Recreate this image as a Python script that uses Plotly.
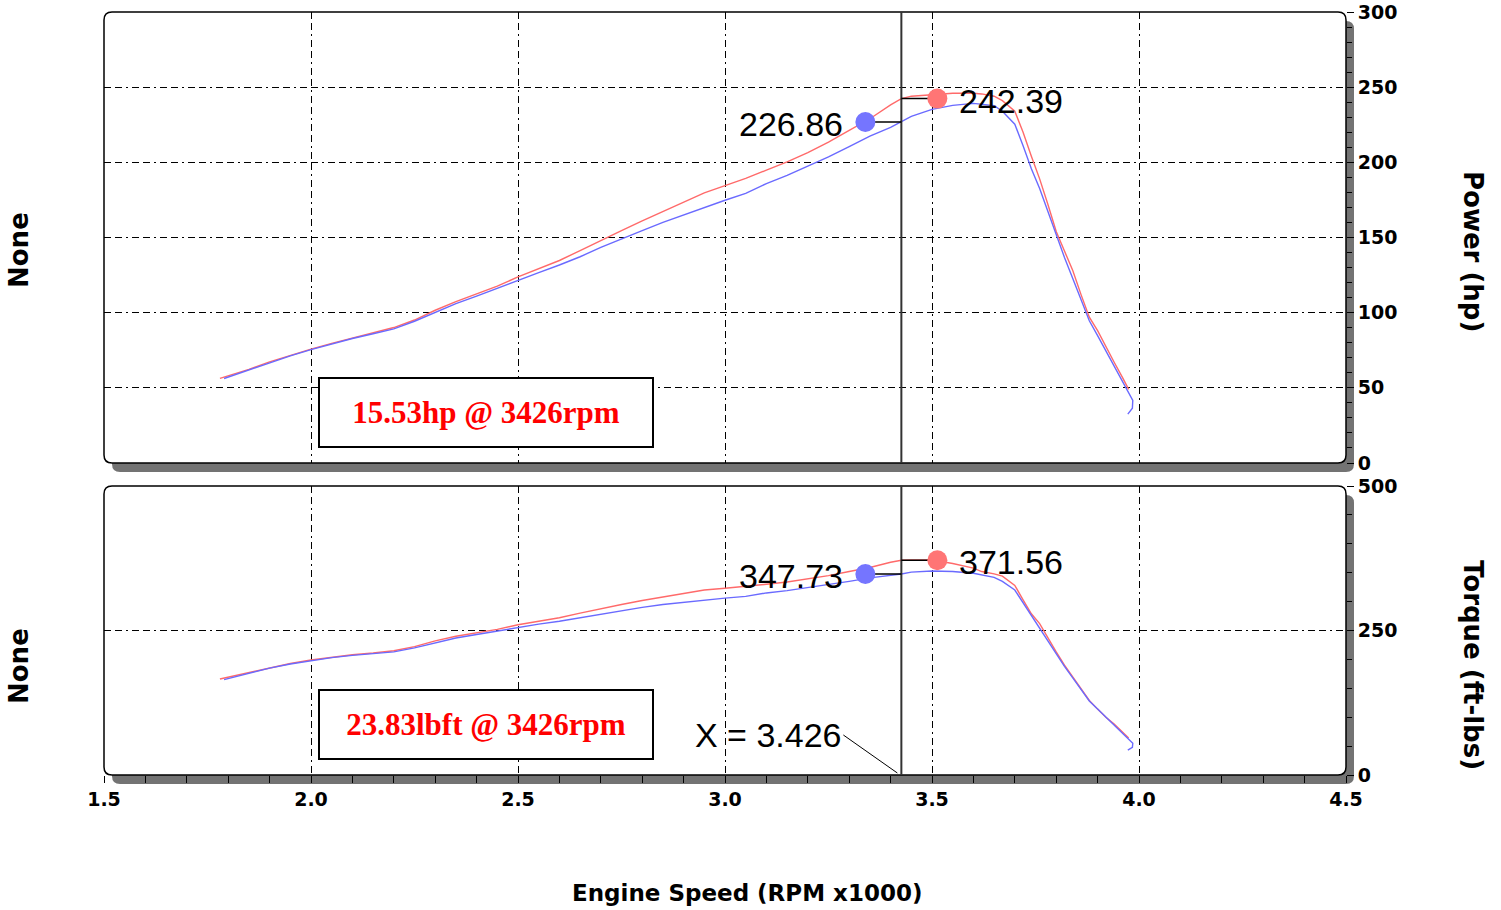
import plotly.graph_objects as go

# ---------------- data ----------------
RPM_RED = [1.78, 1.85, 1.90, 1.95, 2.00, 2.05, 2.10, 2.15, 2.20, 2.25, 2.30, 2.35, 2.40, 2.45,
           2.50, 2.55, 2.60, 2.65, 2.70, 2.75, 2.80, 2.85, 2.90, 2.95, 3.00, 3.05, 3.10, 3.15,
           3.20, 3.25, 3.30, 3.35, 3.40, 3.426, 3.45, 3.50, 3.55, 3.60, 3.62, 3.65, 3.67, 3.70,
           3.72, 3.74, 3.76, 3.78, 3.80, 3.82, 3.84, 3.86, 3.88, 3.90, 3.92, 3.94, 3.96, 3.975]
HP_RED = [56.3, 62.3, 67.3, 71.7, 75.8, 79.6, 83.2, 86.4, 90.1, 95.1, 101.6, 107.4, 112.4, 117.6,
          123.8, 129.2, 134.7, 141.3, 148.1, 154.5, 161.0, 167.1, 173.4, 179.7, 184.5, 189.3, 194.8, 200.3,
          206.5, 213.5, 221.2, 229.0, 238.2, 242.39, 244.0, 245.0, 246.0, 246.0, 245.5, 244.0, 241.0, 234.0,
          220.0, 204.0, 189.0, 172.0, 154.0, 141.0, 128.0, 112.0, 97.0, 88.0, 77.0, 67.0, 57.0, 49.0]
TQ_RED = [166, 177, 186, 193, 199, 204, 208, 211, 215, 222, 232, 240, 246, 252,
          260, 266, 272, 280, 288, 295, 302, 308, 314, 320, 323, 326, 330, 334,
          339, 345, 352, 359, 368, 371.56, 372, 372, 366, 358, 352, 348, 344, 328,
          303, 279, 262, 237, 213, 190, 170, 149, 129, 114, 100, 88, 74, 64]

RPM_BLUE = [1.79, 1.85, 1.90, 1.95, 2.00, 2.05, 2.10, 2.15, 2.20, 2.25, 2.30, 2.35, 2.40, 2.45,
            2.50, 2.55, 2.60, 2.65, 2.70, 2.75, 2.80, 2.85, 2.90, 2.95, 3.00, 3.05, 3.10, 3.15,
            3.20, 3.25, 3.30, 3.35, 3.40, 3.426, 3.45, 3.50, 3.55, 3.60, 3.65, 3.67, 3.70, 3.72,
            3.74, 3.76, 3.78, 3.80, 3.82, 3.84, 3.86, 3.88, 3.90, 3.92, 3.94, 3.96, 3.975, 3.985,
            3.984, 3.973]
HP_BLUE = [56.2, 62.0, 66.9, 71.3, 75.4, 79.2, 82.8, 86.0, 89.2, 94.3, 100.3, 106.0, 111.0, 116.2,
           121.9, 126.7, 131.7, 137.2, 143.4, 149.2, 154.6, 160.1, 165.1, 170.2, 174.8, 179.4, 185.9, 191.3,
           197.4, 203.6, 210.5, 217.5, 223.3, 226.86, 230.6, 235.2, 237.9, 239.2, 237.7, 234.0, 225.4, 211.0,
           195.8, 182.6, 167.0, 152.0, 136.7, 122.8, 108.8, 94.6, 84.7, 74.6, 64.5, 54.3, 47.0, 41.7,
           36.4, 32.5]
TQ_BLUE = [165, 176, 185, 192, 198, 203, 207, 210, 213, 220, 229, 237, 243, 249,
           256, 261, 266, 272, 279, 285, 290, 295, 299, 303, 306, 309, 315, 319,
           324, 329, 335, 341, 345, 347.73, 351, 353, 352, 349, 342, 335, 320, 298,
           275, 255, 232, 210, 188, 168, 148, 128, 114, 100, 86, 72, 62, 55,
           48, 43]

CURSOR_RPM = 3.426
HP_AT_CURSOR = {"red": 242.39, "blue": 226.86}
TQ_AT_CURSOR = {"red": 371.56, "blue": 347.73}

X_TICK_LABELS = ["1.5", "2.0", "2.5", "3.0", "3.5", "4.0", "4.5"]

# ---------------- style ----------------
W, H = 1501, 910
RED_LINE, BLUE_LINE = "#FF6A6A", "#6A6AFF"
RED_DOT, BLUE_DOT = "#FF7575", "#7575FF"
SHADOW = "#737373"
GRID_DASH = "7px,4px,7px,4px,2px,4px"
TICK_FONT = dict(family="DejaVu Sans", size=19, color="black", weight="bold")
TITLE_FONT = dict(family="DejaVu Sans", size=23, color="black", weight="bold")
VTITLE_FONT = dict(family="DejaVu Sans", size=26, color="black", weight="bold")
VAL_FONT = dict(family="Liberation Sans, Arial", size=34, color="black")
BOX_FONT = dict(family="Liberation Serif, Times New Roman", size=31, color="#FF0000", weight="bold")

L, R = 104, 1346
T1, B1 = 12, 463
T2, B2 = 486, 775


def fx(p):
    return p / W


def fy(p):
    return 1 - p / H


def rounded_path(l, t, r, b, rad):
    return (f"M {fx(l + rad)},{fy(t)} L {fx(r - rad)},{fy(t)} Q {fx(r)},{fy(t)} {fx(r)},{fy(t + rad)} "
            f"L {fx(r)},{fy(b - rad)} Q {fx(r)},{fy(b)} {fx(r - rad)},{fy(b)} "
            f"L {fx(l + rad)},{fy(b)} Q {fx(l)},{fy(b)} {fx(l)},{fy(b - rad)} "
            f"L {fx(l)},{fy(t + rad)} Q {fx(l)},{fy(t)} {fx(l + rad)},{fy(t)} Z")


fig = go.Figure()

line_w = 1.4
fig.add_trace(go.Scatter(x=RPM_RED, y=HP_RED, mode="lines", line=dict(color=RED_LINE, width=line_w),
                         xaxis="x", yaxis="y", hoverinfo="skip"))
fig.add_trace(go.Scatter(x=RPM_BLUE, y=HP_BLUE, mode="lines", line=dict(color=BLUE_LINE, width=line_w),
                         xaxis="x", yaxis="y", hoverinfo="skip"))
fig.add_trace(go.Scatter(x=RPM_RED, y=TQ_RED, mode="lines", line=dict(color=RED_LINE, width=line_w),
                         xaxis="x2", yaxis="y2", hoverinfo="skip"))
fig.add_trace(go.Scatter(x=RPM_BLUE, y=TQ_BLUE, mode="lines", line=dict(color=BLUE_LINE, width=line_w),
                         xaxis="x2", yaxis="y2", hoverinfo="skip"))

shapes = []
annotations = []

for (t, b) in [(T1, B1), (T2, B2)]:
    shapes.append(dict(type="path", xref="paper", yref="paper", layer="below",
                       path=rounded_path(L + 8, t + 9, R + 8, b + 9, 8),
                       fillcolor=SHADOW, line=dict(width=0)))
    shapes.append(dict(type="path", xref="paper", yref="paper", layer="below",
                       path=rounded_path(L, t, R, b, 8),
                       fillcolor="white", line=dict(color="black", width=1.5)))

# cursor lines
for xr, yr in [("x", "y"), ("x2", "y2")]:
    shapes.append(dict(type="line", xref=xr, yref=yr + " domain", x0=CURSOR_RPM, x1=CURSOR_RPM,
                       y0=0, y1=1, line=dict(color="#333333", width=2), layer="above"))

# value markers + connectors + labels
for xr, yr, vals in [("x", "y", HP_AT_CURSOR), ("x2", "y2", TQ_AT_CURSOR)]:
    for key, side, col in [("red", 1, RED_DOT), ("blue", -1, BLUE_DOT)]:
        v = vals[key]
        shapes.append(dict(type="line", xref=xr, yref=yr, xsizemode="pixel", xanchor=CURSOR_RPM,
                           x0=0, x1=36 * side, y0=v, y1=v, line=dict(color="black", width=1.5),
                           layer="above"))
        shapes.append(dict(type="circle", xref=xr, yref=yr, xsizemode="pixel", ysizemode="pixel",
                           xanchor=CURSOR_RPM, yanchor=v, x0=36 * side - 10, x1=36 * side + 10,
                           y0=-10, y1=10, fillcolor=col, line=dict(width=0), layer="above"))
        annotations.append(dict(x=CURSOR_RPM, y=v, xref=xr, yref=yr, text=f"{v:.2f}",
                                showarrow=False, xanchor="left" if side > 0 else "right",
                                yanchor="middle", xshift=56 * side, yshift=-2, font=VAL_FONT))

# X = cursor label with leader line
shapes.append(dict(type="line", xref="x2", yref="y2", xsizemode="pixel", ysizemode="pixel",
                   xanchor=CURSOR_RPM, yanchor=0, x0=-58, x1=-4, y0=40, y1=2,
                   line=dict(color="black", width=1), layer="above"))
annotations.append(dict(x=CURSOR_RPM, y=0, xref="x2", yref="y2", text=f"X = {CURSOR_RPM:.3f}",
                        showarrow=False, xanchor="right", yanchor="middle", xshift=-57, yshift=40,
                        font=VAL_FONT))

# difference boxes
diff_hp = HP_AT_CURSOR["red"] - HP_AT_CURSOR["blue"]
diff_tq = TQ_AT_CURSOR["red"] - TQ_AT_CURSOR["blue"]
rpm_txt = f"{CURSOR_RPM * 1000:.0f}rpm"
for txt, top in [(f"{diff_hp:.2f}hp @ {rpm_txt}", 377), (f"{diff_tq:.2f}lbft @ {rpm_txt}", 689)]:
    annotations.append(dict(x=fx(318), y=fy(top), xref="paper", yref="paper", text=txt,
                            showarrow=False, xanchor="left", yanchor="top", width=332, height=67,
                            bgcolor="white", bordercolor="black", borderwidth=2, borderpad=0,
                            align="center", valign="middle", font=BOX_FONT))

# axis titles
title_common = dict(xref="paper", yref="paper", showarrow=False, xanchor="center", yanchor="middle")
annotations.append(dict(x=fx(747), y=fy(893), text="Engine Speed (RPM x1000)", font=TITLE_FONT,
                        **title_common))
annotations.append(dict(x=fx(1473), y=fy(251), text="Power (hp)", textangle=90, font=VTITLE_FONT,
                        **title_common))
annotations.append(dict(x=fx(1473), y=fy(665), text="Torque (ft-lbs)", textangle=90, font=VTITLE_FONT,
                        **title_common))
for yc in (250, 666):
    annotations.append(dict(x=fx(19), y=fy(yc), text="None", textangle=-90, font=VTITLE_FONT,
                            **title_common))

grid_common = dict(showgrid=True, gridcolor="black", gridwidth=1, griddash=GRID_DASH,
                   zeroline=False, showline=False, automargin=False)

fig.update_layout(
    width=W, height=H,
    autosize=False,
    margin=dict(l=0, r=0, t=0, b=0, pad=0, autoexpand=False),
    paper_bgcolor="white",
    plot_bgcolor="rgba(0,0,0,0)",
    showlegend=False,
    xaxis=dict(domain=[fx(L), fx(R)], range=[1.5, 4.5], anchor="y", showticklabels=False,
               tickmode="linear", tick0=1.5, dtick=0.5, ticks="", **grid_common),
    xaxis2=dict(domain=[fx(L), fx(R)], range=[1.5, 4.5], anchor="y2",
                tickmode="array", tickvals=[float(s) for s in X_TICK_LABELS], ticktext=X_TICK_LABELS,
                ticks="outside", ticklen=7, tickcolor="black", tickwidth=1,
                minor=dict(dtick=0.1, tick0=1.5, ticks="outside", ticklen=7, tickcolor="black", showgrid=False),
                tickfont=TICK_FONT, **grid_common),
    yaxis=dict(domain=[fy(B1), fy(T1)], range=[0, 300], anchor="x", side="right",
               tickmode="linear", tick0=0, dtick=50, ticks="outside", ticklen=7, tickcolor="black",
               minor=dict(dtick=10, ticks="outside", ticklen=5, tickcolor="black", showgrid=False),
               tickfont=TICK_FONT, **grid_common),
    yaxis2=dict(domain=[fy(B2), fy(T2)], range=[0, 500], anchor="x2", side="right",
                tickmode="linear", tick0=0, dtick=250, ticks="outside", ticklen=7, tickcolor="black",
                minor=dict(dtick=50, ticks="outside", ticklen=5, tickcolor="black", showgrid=False),
                tickfont=TICK_FONT, **grid_common),
    shapes=shapes,
    annotations=annotations,
)

fig.write_html("out.html", config={"displayModeBar": False, "staticPlot": True},
               post_script="document.body.style.margin='0px'; document.body.style.overflow='hidden';")
